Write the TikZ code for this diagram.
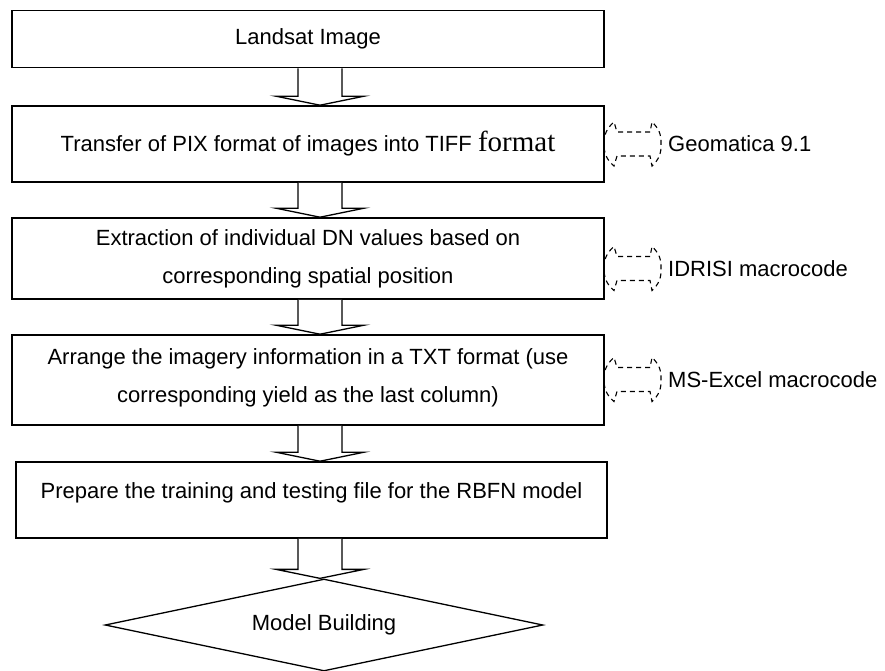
\documentclass[tikz,border=0pt]{standalone}
\usepackage{fontspec}
\setmainfont{Liberation Sans}
\newfontfamily\timesword{Liberation Serif}
\usetikzlibrary{shapes.geometric,calc}

\tikzset{
	stepbox/.style={draw,line width=1.6pt,inner sep=0pt,align=center,
		minimum width=592pt},
	hollowarrow/.style={draw,line width=1.3pt,fill=white,line join=miter},
	toolarrow/.style={draw,line width=1.1pt,dash pattern=on 5pt off 4pt},
	decision/.style={draw,diamond,aspect=4.8,line width=1.3pt,inner sep=0pt,
		minimum width=438pt,minimum height=92pt}
}

\begin{document}
\begin{tikzpicture}[x=1pt,y=-1pt,font=\fontsize{22}{38}\selectfont]
	\useasboundingbox (0,0) rectangle (885,670);

	% processing steps
	\node[stepbox,minimum height=57pt] (land) at (308,39) {Landsat Image};
	\node[stepbox,minimum height=76pt] (pix) at (308,144)
		{Transfer of PIX format of images into TIFF {\timesword\fontsize{29}{29}\selectfont format}};
	\node[stepbox,minimum height=81pt] (dn) at (308,258.5)
		{Extraction of individual DN values based on\\corresponding spatial position};
	\node[stepbox,minimum height=90pt,text depth=8pt] (txt) at (308,380)
		{Arrange the imagery information in a TXT format (use\\corresponding yield as the last column)};
	\node[stepbox,minimum width=591pt,minimum height=76pt,text depth=18pt] (rbfn) at (311.5,500)
		{Prepare the training and testing file for the RBFN model};
	\node[decision] (model) at (324,625) {Model Building};

	% hollow arrows between the steps
	\foreach \a/\b in {land/pix,pix/dn,dn/txt,txt/rbfn,rbfn/model}
		\draw[hollowarrow] let \p1=(\a.south), \p2=(\b.north) in
			(298pt,\y1) -- (298pt,\y2+9pt) -- (276pt,\y2+9pt) -- (320pt,\y2)
			-- (364pt,\y2+9pt) -- (342pt,\y2+9pt) -- (342pt,\y1);

	% software used for each step
	\foreach \m/\txt [count=\i] in {144/Geomatica 9.1,268.5/IDRISI macrocode,379.5/MS-Excel macrocode}
	{
		\draw[toolarrow] (650,{\m-12}) -- (617,{\m-12}) -- (614,{\m-22})
			to[bend right=25] (604,\m) to[bend right=25] (614,{\m+22})
			-- (617,{\m+12}) -- (650,{\m+12}) -- (652,{\m+22})
			to[bend right=25] (661,\m) to[bend right=25] (652,{\m-22}) -- cycle;
		\node[anchor=west,inner sep=0pt] (tool\i) at (668,\m) {\txt};
	}
\end{tikzpicture}
\end{document}
